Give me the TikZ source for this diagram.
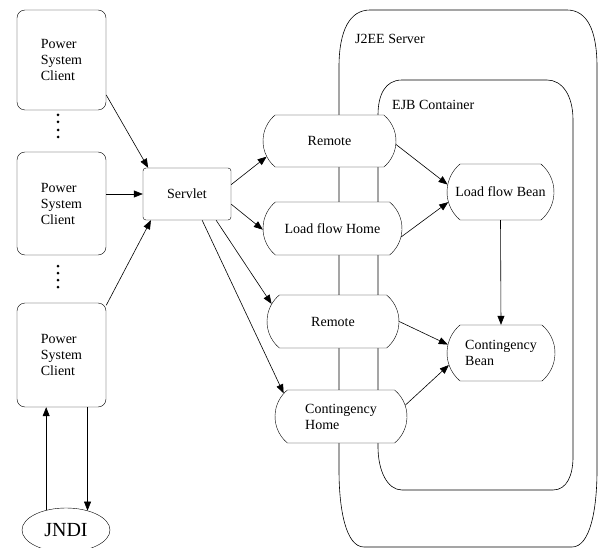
\documentclass[tikz,border=0pt]{standalone}
\usepackage{fontspec}
\setmainfont{Liberation Serif}
\usetikzlibrary{arrows.meta,shapes.misc,shapes.geometric}

\begin{document}
\begin{tikzpicture}[x=1pt,y=-1pt,
  every node/.style={inner sep=0pt,font=\fontsize{14}{16}\selectfont},
  client/.style={draw,fill=white,rounded corners=8pt,align=left},
  bean/.style={draw,fill=white,rounded rectangle,rounded rectangle arc length=100,align=left},
  arr/.style={-{Triangle[length=9pt,width=7pt]},line width=0.6pt}]
\useasboundingbox (0,0) rectangle (599,548);
% containers
\draw[line width=0.6pt] (339,470) -- (339,67) .. controls (339,30) and (350,10) .. (370,10) -- (567,10) .. controls (587,10) and (597,30) .. (597,67) -- (597,470) .. controls (597,510) and (590,547) .. (572,547) -- (364,547) .. controls (346,547) and (339,510) .. (339,470) -- cycle;
\draw[line width=0.6pt] (378,447) -- (378,115) .. controls (378,95) and (385,80) .. (402,80) -- (547,80) .. controls (562,80) and (573,95) .. (573,120) -- (573,457) .. controls (573,475) and (567,490) .. (553,490) -- (402,490) .. controls (387,490) and (378,470) .. (378,447) -- cycle;
\node[anchor=base west] (srv) at (355,44) {J2EE Server};
\node[anchor=base west] (ejb) at (392,110) {EJB Container};

\node[client,minimum width=89,minimum height=100] (c1) at (61.5,60) {Power\\System\\Client};
\node[client,minimum width=89,minimum height=103] (c2) at (61.5,203.5) {Power\\System\\Client};
\node[client,minimum width=89,minimum height=104] (c3) at (61.5,355) {Power\\System\\Client};
\foreach \y in {115,122,130,137,266,273,280,287} \fill (58,\y) circle (1.5);
\node[draw,fill=white,rounded corners=3pt,minimum width=88,minimum height=52] (sv) at (187,194) {Servlet};
\node[draw,ellipse,minimum width=88,minimum height=44,font=\fontsize{20}{22}\selectfont] (jndi) at (66,530) {JNDI};

\node[bean,minimum width=133,minimum height=52] (r1) at (329.5,141) {Remote};
\node[bean,minimum width=139,minimum height=53] (lfh) at (332.5,228.5) {Load flow Home};
\node[bean,minimum width=132,minimum height=53] (r2) at (333,321.5) {Remote};
\node[bean,minimum width=132,minimum height=53] (ch) at (341,416.5) {Contingency\\Home};
\node[bean,minimum width=107,minimum height=56] (lfb) at (500.5,192) {Load flow Bean};
\node[bean,minimum width=108,minimum height=56] (cb) at (501,353) {Contingency\\Bean};

\draw[arr] (c1.-38) -- (sv.146);
\draw[arr] (sv.west -| c2.east) -- (sv.west);
\draw[arr] (c3.48) -- (sv.216);
\draw[arr] (sv.12) -- (r1.194);
\draw[arr] (sv.-13) -- (lfh.181);
\draw[arr] (sv.-42) -- (r2.164);
\draw[arr] (sv.-60) -- (ch.158);
\draw[arr] (r1.-3) -- (lfb.172);
\draw[arr] (lfh.-7) -- (lfb.191);
\draw[arr] (r2.east) -- (cb.171);
\draw[arr] (ch.10) -- (cb.193);
\draw[arr] (lfb.south) -- (cb.north);
\draw[arr] (jndi.135) -- (jndi.135 |- c3.south);
\draw[arr] (jndi.42 |- c3.south) -- (jndi.42);
\end{tikzpicture}
\end{document}
